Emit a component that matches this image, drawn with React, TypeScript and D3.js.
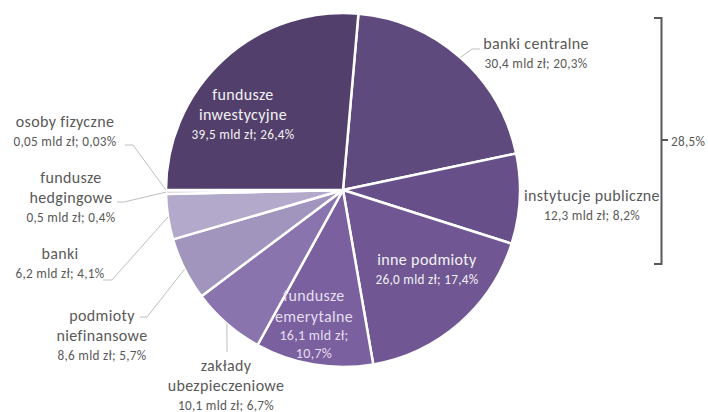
import React from "react";
import * as d3 from "d3";

const categories = [
  "banki centralne",
  "instytucje publiczne",
  "inne podmioty",
  "fundusze emerytalne",
  "zakłady ubezpieczeniowe",
  "podmioty niefinansowe",
  "banki",
  "fundusze hedgingowe",
  "osoby fizyczne",
  "fundusze inwestycyjne",
];
const values = [30.4, 12.3, 26.0, 16.1, 10.1, 8.6, 6.2, 0.5, 0.05, 39.5];
const valueLabels = ["30,4", "12,3", "26,0", "16,1", "10,1", "8,6", "6,2", "0,5", "0,05", "39,5"];
const shareLabels = ["20,3%", "8,2%", "17,4%", "10,7%", "6,7%", "5,7%", "4,1%", "0,4%", "0,03%", "26,4%"];
const bracketLabel = "28,5%";

const colors = [
  "#5E4A7C", "#674F89", "#705794", "#7B60A0", "#8A74AE",
  "#A194BD", "#B3A9CA", "#C9C2DA", "#DAD5E6", "#523F6B",
];

type Lab = { lines: string[]; x: number; y: number; inside: boolean; leader?: [number, number][] };
const labelLayout: Lab[] = [
  { lines: ["banki centralne"], x: 536, y: 43, inside: false, leader: [[480, 49], [472, 49]] },
  { lines: ["instytucje publiczne"], x: 592, y: 195, inside: false },
  { lines: ["inne podmioty"], x: 427, y: 259, inside: true },
  { lines: ["fundusze", "emerytalne"], x: 314, y: 295, inside: true },
  { lines: ["zakłady", "ubezpieczeniowe"], x: 226, y: 365, inside: false, leader: [[227, 352]] },
  { lines: ["podmioty", "niefinansowe"], x: 102, y: 315, inside: false, leader: [[140, 317], [147, 317]] },
  { lines: ["banki"], x: 60, y: 253, inside: false, leader: [[103, 280], [112, 280]] },
  { lines: ["fundusze", "hedgingowe"], x: 71, y: 177, inside: false, leader: [[117, 202], [124, 202]] },
  { lines: ["osoby fizyczne"], x: 65, y: 121, inside: false, leader: [[125, 145], [133, 145]] },
  { lines: ["fundusze", "inwestycyjne"], x: 243, y: 94, inside: true },
];

export default function App() {
  const width = 708;
  const height = 412;
  const cx = 343;
  const cy = 190;
  const r = 177;
  const start = (5 * Math.PI) / 180;

  const pie = d3
    .pie<number>()
    .sort(null)
    .value((d) => d)
    .startAngle(start)
    .endAngle(start + 2 * Math.PI);
  const arcs = pie(values);
  const arc = d3.arc<d3.PieArcDatum<number>>().innerRadius(0).outerRadius(r);

  const font = "Carlito, Calibri, Lato, sans-serif";
  const nameSize = 16;
  const valSize = 13.2;

  return (
    <svg
      width={width}
      height={height}
      style={{ position: "absolute", left: 0, top: 0, display: "block", background: "#fff" }}
      fontFamily={font}
    >
      <g transform={`translate(${cx},${cy})`}>
        {arcs.map((a, i) => (
          <path key={i} d={arc(a) || ""} fill={colors[i]} stroke="#fff" strokeWidth={2.5} strokeLinejoin="round" />
        ))}
      </g>
      {arcs.map((a, i) => {
        const L = labelLayout[i];
        if (!L.leader) return null;
        const mid = (a.startAngle + a.endAngle) / 2;
        const ex = cx + r * Math.sin(mid);
        const ey = cy - r * Math.cos(mid);
        const pts: [number, number][] = [...L.leader, [ex, ey]];
        const line = d3.line()(pts) || "";
        return <path key={"l" + i} d={line} fill="none" stroke="#BFBFBF" strokeWidth={1} />;
      })}
      {labelLayout.map((L, i) => {
        const fill = L.inside ? (i === 3 ? "#E4DEEE" : "#F2F2F2") : "#595959";
        const valText = `${valueLabels[i]} mld zł; ${shareLabels[i]}`;
        const items: { t: string; s: number; ls: number }[] = L.lines.map((t) => ({ t, s: nameSize, ls: 0.35 }));
        if (i === 3) {
          items.push({ t: `${valueLabels[i]} mld zł;`, s: valSize + 0.8, ls: 0.3 });
          items.push({ t: shareLabels[i], s: valSize + 0.8, ls: 0.3 });
        } else {
          items.push({ t: valText, s: valSize, ls: 0.3 });
        }
        const step = i === 3 ? [0, 21, 40, 58] : null;
        return (
          <g key={"t" + i}>
            {items.map((it, k) => (
              <text
                key={k}
                x={L.x}
                y={L.y + (step ? step[k] : k * 20)}
                textAnchor="middle"
                dominantBaseline="central"
                fontSize={it.s}
                letterSpacing={it.ls}
                fill={fill}
              >
                {it.t}
              </text>
            ))}
          </g>
        );
      })}
      <path d="M654,18 H661.5 V264 H654" fill="none" stroke="#595959" strokeWidth={2} />
      <line x1={661.5} y1={140} x2={668} y2={140} stroke="#595959" strokeWidth={2} />
      <text x={671} y={141} dominantBaseline="central" fontSize={valSize} letterSpacing={0.3} fill="#595959">
        {bracketLabel}
      </text>
    </svg>
  );
}
